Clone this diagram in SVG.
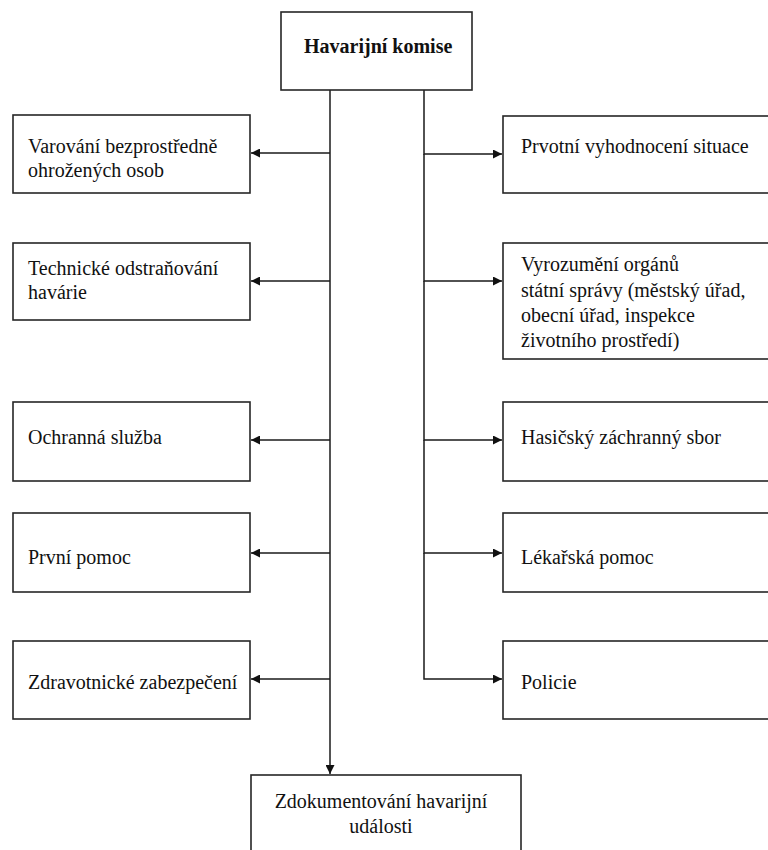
<svg xmlns="http://www.w3.org/2000/svg" width="768" height="850" viewBox="0 0 768 850">
  <style>
    .box { fill: #ffffff; stroke: #262626; stroke-width: 1.6; }
    .lbl { font-size: 20px; fill: #111111; }
    .title { font-weight: bold; }
    .wire { fill: none; stroke: #1a1a1a; stroke-width: 1.5; }
  </style>
  <defs>
    <marker id="arrow" viewBox="0 0 10 10" refX="10" refY="5" markerWidth="9" markerHeight="9" markerUnits="userSpaceOnUse" orient="auto">
      <path d="M0,0 L10,5 L0,10 Z" fill="#111111"/>
    </marker>
  </defs>
  <rect width="768" height="850" fill="#ffffff"/>

  <g id="connectors">
    <!-- left trunk, ends at the bottom node -->
    <path class="wire" d="M330,90 V774" marker-end="url(#arrow)"/>
    <path class="wire" d="M330,153 H251" marker-end="url(#arrow)"/>
    <path class="wire" d="M330,281 H251" marker-end="url(#arrow)"/>
    <path class="wire" d="M330,440 H251" marker-end="url(#arrow)"/>
    <path class="wire" d="M330,553 H251" marker-end="url(#arrow)"/>
    <path class="wire" d="M330,679 H251" marker-end="url(#arrow)"/>
    <!-- right trunk -->
    <path class="wire" d="M424,90 V154 H502" marker-end="url(#arrow)"/>
    <path class="wire" d="M424,154 V281 H502" marker-end="url(#arrow)"/>
    <path class="wire" d="M424,281 V440 H502" marker-end="url(#arrow)"/>
    <path class="wire" d="M424,440 V553 H502" marker-end="url(#arrow)"/>
    <path class="wire" d="M424,553 V679 H502" marker-end="url(#arrow)"/>
  </g>

  <g id="havarijni-komise">
    <rect class="box" x="281" y="12" width="191" height="78"/>
    <text class="lbl title" x="304" y="53" font-family="Liberation Serif">Havarijní komise</text>
  </g>

  <g id="varovani">
    <rect class="box" x="13" y="115" width="237" height="78"/>
    <text class="lbl" x="28" y="153" font-family="Liberation Serif">Varování bezprostředně</text>
    <text class="lbl" x="28" y="177" font-family="Liberation Serif">ohrožených osob</text>
  </g>

  <g id="technicke-odstranovani">
    <rect class="box" x="13" y="243" width="237" height="77"/>
    <text class="lbl" x="28" y="275" font-family="Liberation Serif">Technické odstraňování</text>
    <text class="lbl" x="28" y="299" font-family="Liberation Serif">havárie</text>
  </g>

  <g id="ochranna-sluzba">
    <rect class="box" x="13" y="402" width="237" height="79"/>
    <text class="lbl" x="28" y="444" font-family="Liberation Serif">Ochranná služba</text>
  </g>

  <g id="prvni-pomoc">
    <rect class="box" x="13" y="513" width="237" height="79"/>
    <text class="lbl" x="28" y="564" font-family="Liberation Serif">První pomoc</text>
  </g>

  <g id="zdravotnicke-zabezpeceni">
    <rect class="box" x="13" y="641" width="237" height="78"/>
    <text class="lbl" x="28" y="689" font-family="Liberation Serif">Zdravotnické zabezpečení</text>
  </g>

  <g id="prvotni-vyhodnoceni">
    <rect class="box" x="503" y="116" width="268" height="77"/>
    <text class="lbl" x="521" y="153" font-family="Liberation Serif">Prvotní vyhodnocení situace</text>
  </g>

  <g id="vyrozumeni-organu">
    <rect class="box" x="503" y="243" width="268" height="116"/>
    <text class="lbl" x="521" y="271" font-family="Liberation Serif">Vyrozumění orgánů</text>
    <text class="lbl" x="521" y="297" font-family="Liberation Serif">státní správy (městský úřad,</text>
    <text class="lbl" x="521" y="322" font-family="Liberation Serif">obecní úřad, inspekce</text>
    <text class="lbl" x="521" y="347" font-family="Liberation Serif">životního prostředí)</text>
  </g>

  <g id="hasicsky-zachranny-sbor">
    <rect class="box" x="503" y="402" width="268" height="79"/>
    <text class="lbl" x="521" y="444" font-family="Liberation Serif">Hasičský záchranný sbor</text>
  </g>

  <g id="lekarska-pomoc">
    <rect class="box" x="503" y="513" width="268" height="79"/>
    <text class="lbl" x="521" y="564" font-family="Liberation Serif">Lékařská pomoc</text>
  </g>

  <g id="policie">
    <rect class="box" x="503" y="641" width="268" height="78"/>
    <text class="lbl" x="521" y="689" font-family="Liberation Serif">Policie</text>
  </g>

  <g id="zdokumentovani">
    <rect class="box" x="251" y="775" width="270" height="85"/>
    <text class="lbl" x="381" y="808" text-anchor="middle" font-family="Liberation Serif">Zdokumentování havarijní</text>
    <text class="lbl" x="381" y="833" text-anchor="middle" font-family="Liberation Serif">události</text>
  </g>
</svg>
